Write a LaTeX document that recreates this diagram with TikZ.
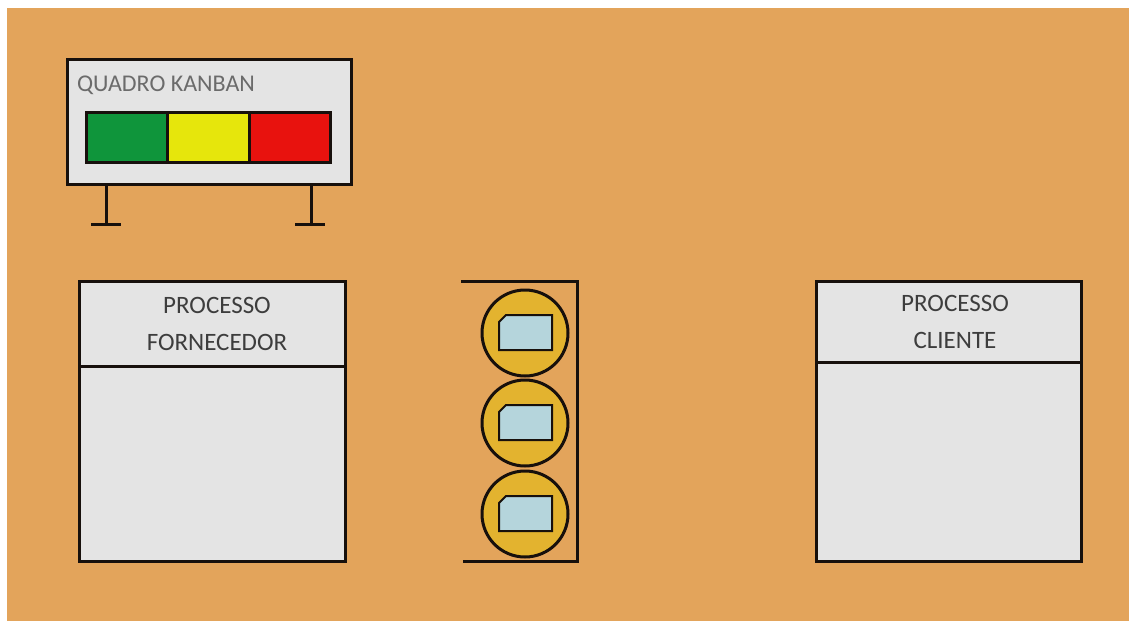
\documentclass[tikz,border=0pt]{standalone}
\usepackage{fontspec}
\setmainfont{Carlito}
\usetikzlibrary{positioning}
\definecolor{bgorange}{HTML}{E3A45B}
\definecolor{panelgrey}{HTML}{E4E4E4}
\definecolor{kgreen}{HTML}{0F953B}
\definecolor{kyellow}{HTML}{E6E60C}
\definecolor{kred}{HTML}{E8120E}
\definecolor{tokgold}{HTML}{E3B32F}
\definecolor{cardblue}{HTML}{B5D5DC}
\definecolor{inkline}{HTML}{17100C}

\begin{document}
\begin{tikzpicture}[
  x=1pt, y=-1pt,
  node distance=0pt,
  panel/.style={draw=inkline, line width=3pt, fill=panelgrey, outer sep=0pt, inner sep=0pt},
  label/.style={text=black!76, font=\fontsize{25}{25}\selectfont, align=center},
  lamp/.style={draw=inkline, line width=3pt, outer sep=0pt, minimum width=81.5pt, minimum height=50pt},
  token/.style={circle, draw=inkline, line width=3pt, fill=tokgold, minimum size=86pt, inner sep=0pt, outer sep=0pt},
  card/.style={draw=inkline, line width=2pt, fill=cardblue, line join=miter},
  frame/.style={draw=inkline, line width=3pt},
]
\useasboundingbox (0,0) rectangle (1129,621);
\fill[bgorange] (7,8) rectangle (1129,621);

% ---- kanban board ----
\node[panel, minimum width=284pt, minimum height=125pt] (board) at (209,121.5) {};
\node[label, text=black!58, anchor=west, font=\fontsize{24}{24}\selectfont] (boardtitle) at (73.5,85) {QUADRO KANBAN};
\node[lamp, fill=kgreen] (green) at (126.75,137) {};
\node[lamp, fill=kyellow, right=of green] (yellow) {};
\node[lamp, fill=kred, right=of yellow] (red) {};

% legs and feet
\coordinate (legl) at (106,224);
\coordinate (legr) at (311,224);
\draw[frame] (board.south -| legl) -- (legl);
\draw[frame] (board.south -| legr) -- (legr);
\draw[frame] ([xshift=-15pt]legl) -- ([xshift=15pt]legl);
\draw[frame] ([xshift=-16pt]legr) -- ([xshift=14pt]legr);

% ---- supplier process ----
\node[panel, minimum width=266pt, minimum height=85pt] (supplierhead) at (212,323.5) {};
\node[panel, minimum width=266pt, minimum height=195pt, below=of supplierhead] (supplierbody) {};
\node[label] (suppliertitle) at (217,323.5) {PROCESSO\\[12pt]FORNECEDOR};

% ---- kanban tokens ----
\coordinate (racktl) at (461,281);
\coordinate (rackbl) at (463,561);
\coordinate (rackr) at (577,421);
\draw[frame] (racktl) -- (racktl -| rackr) -- (rackbl -| rackr) -- (rackbl);
\foreach \n/\y in {a/333, b/423, c/514} {
  \node[token] (token\n) at (525,\y) {};
  % card with one cut corner
  \draw[card, shift={(token\n)}] (-26,-11) -- (-19,-18) -- (27,-18) -- (27,17) -- (-26,17) -- cycle;
}

% ---- customer process ----
\node[panel, minimum width=265pt, minimum height=81pt] (clienthead) at (948.5,321.5) {};
\node[panel, minimum width=265pt, minimum height=199pt, below=of clienthead] (clientbody) {};
\node[label] (clienttitle) at (955,321.5) {PROCESSO\\[12pt]CLIENTE};
\end{tikzpicture}
\end{document}
